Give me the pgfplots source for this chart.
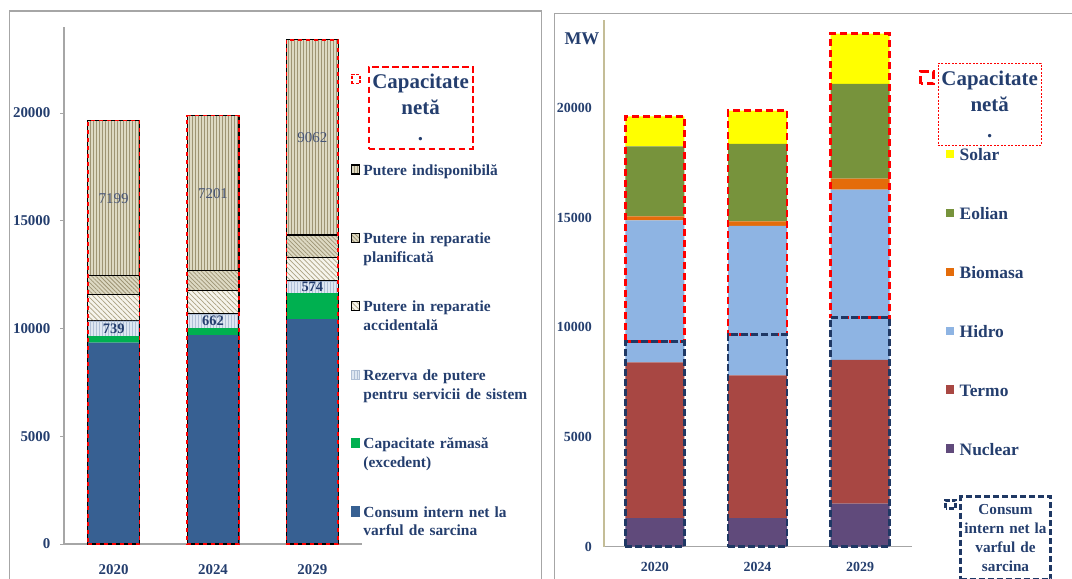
\documentclass[border=0pt]{standalone}
\usepackage{fontspec}
\setmainfont{Liberation Serif}
\usepackage{pgfplots}
\usepackage{pgfplotstable}
\pgfplotsset{compat=1.18}
\usetikzlibrary{patterns,patterns.meta}

\definecolor{txtblue}{RGB}{36,62,110}
\definecolor{labblue}{RGB}{70,84,118}
\definecolor{consblue}{RGB}{55,96,146}
\definecolor{excgreen}{RGB}{0,176,80}
\definecolor{tanfill}{RGB}{221,217,195}
\definecolor{tanline}{RGB}{158,148,116}
\definecolor{rezfill}{RGB}{222,231,242}
\definecolor{rezline}{RGB}{176,192,214}
\definecolor{accfill}{RGB}{246,244,236}
\definecolor{accline}{RGB}{172,162,130}
\definecolor{solar}{RGB}{255,255,0}
\definecolor{eolian}{RGB}{119,147,60}
\definecolor{biomasa}{RGB}{228,108,10}
\definecolor{hidro}{RGB}{142,180,227}
\definecolor{termo}{RGB}{168,71,67}
\definecolor{nuclear}{RGB}{96,74,123}
\definecolor{axgray}{RGB}{166,166,166}
\definecolor{axtan}{RGB}{196,189,151}
\definecolor{netred}{RGB}{255,0,0}
\definecolor{consnavy}{RGB}{31,56,100}

\newcommand{\fsz}[2]{\fontsize{#1}{#2}\selectfont}

% bilant de putere (MW)
\pgfplotstableread{
x consum ramasa rezerva accid planif indisp neta
0 9340 280 739 1230 860 7199 19648
1 9670 340 662 1080 930 7201 19883
2 10440 1190 574 1100 1035 9062 23401
}\bilant

% etichete pe bare (centrul segmentului)
\pgfplotstableread{
x y lab
0 16048 7199
1 16282 7201
2 18870 9062
}\lblindisp
\pgfplotstableread{
x y lab
0 9990 739
1 10341 662
2 11917 574
}\lblrez

% productie pe surse (MW)
\pgfplotstableread{
x nuclear termo hidro biomasa eolian solar consum neta
0 1300 7100 6470 180 3190 1370 9340 19610
1 1300 6500 6820 200 3530 1520 9670 19870
2 1960 6550 7760 500 4310 2290 10440 23370
}\productie

\pgfplotsset{
  leftpanel/.style={
    scale only axis, width=298bp, height=517.2bp,
    at={(64bp,-544bp)}, anchor=south west,
    xmin=-0.5, xmax=2.5, ymin=0, ymax=24000, clip=false,
  },
  rightpanel/.style={
    scale only axis, width=308bp, height=526.8bp,
    at={(603.5bp,-546.7bp)}, anchor=south west,
    xmin=-0.5, xmax=2.5, ymin=0, ymax=24000, clip=false,
  },
}

\begin{document}
\begin{tikzpicture}
\path[use as bounding box] (0,0) rectangle (1072bp,-579bp);
\draw[axgray, line width=1.2bp] (9.6bp,-600bp) -- (9.6bp,-11bp) -- (541.7bp,-11bp) -- (541.7bp,-600bp);
\draw[axgray, line width=1.2bp] (554.3bp,-600bp) -- (554.3bp,-13.3bp) -- (1085bp,-13.3bp);

% ---------------- stanga ----------------
\begin{axis}[leftpanel,
  ybar stacked, bar width=51.7bp,
  axis x line*=bottom, axis y line*=left,
  x axis line style={draw=axgray, line width=1.2bp, -},
  y axis line style={draw=axgray, line width=1.2bp, -},
  xtick={0,1,2}, xticklabels={2020,2024,2029},
  ytick={0,5000,10000,15000,20000},
  xtick style={draw=none},
  ytick style={draw=axgray, line width=1bp},
  tick align=outside, major tick length=4bp,
  scaled y ticks=false,
  /pgf/number format/1000 sep={},
  /pgf/number format/assume math mode=true,
  tick label style={font=\bfseries\fsz{15}{18}, text=txtblue},
  yticklabel style={anchor=east, inner sep=0pt, xshift=-9.4bp},
  xticklabel style={anchor=base, inner sep=0pt, yshift=-26bp},
  reverse legend,
  legend style={draw=none, fill=none, inner sep=0pt,
    at={(0.9631,0.7360)}, anchor=north west, row sep=31.9bp,
    cells={anchor=base west},
    nodes={inner sep=0pt, align=left, text width=180bp,
      text height=11.5bp, text depth=25bp,
      font=\bfseries\fsz{15.5}{19}, text=txtblue}},
  legend image code/.code={\draw[#1, line width=1.2bp] (0bp,1bp) rectangle (8bp,10bp); \path (11bp,0bp);},
]
\addplot[fill=consblue, draw=consblue] table[x=x, y=consum]{\bilant};
\addlegendentry{Consum intern net la\\varful de sarcina}
\addplot[fill=excgreen, draw=excgreen] table[x=x, y=ramasa]{\bilant};
\addlegendentry{Capacitate rămasă\\(excedent)}
\addplot[fill=rezfill, draw=rezline,
  postaction={pattern={Lines[angle=90,distance=3bp,line width=0.6bp]}, pattern color=rezline}]
  table[x=x, y=rezerva]{\bilant};
\addlegendentry{Rezerva de putere\\pentru servicii de sistem}
\addplot[fill=accfill, draw=black, line width=1.3bp,
  postaction={pattern={Lines[angle=-45,distance=3.5bp,line width=0.7bp]}, pattern color=accline}]
  table[x=x, y=accid]{\bilant};
\addlegendentry{Putere in reparatie\\accidentală}
\addplot[fill=tanfill, draw=black, line width=1.3bp,
  postaction={pattern={Lines[angle=-45,distance=3bp,line width=0.8bp]}, pattern color=tanline}]
  table[x=x, y=planif]{\bilant};
\addlegendentry{Putere in reparatie\\planificată}
\addplot[fill=tanfill, draw=black, line width=1.3bp,
  postaction={pattern={Lines[angle=90,distance=3bp,line width=0.7bp]}, pattern color=tanline}]
  table[x=x, y=indisp]{\bilant};
\addlegendentry{Putere indisponibilă}
\end{axis}

\begin{axis}[leftpanel, hide axis,
  legend style={draw=none, fill=none, inner sep=0pt,
    at={(0.9631,0.9265)}, anchor=north west,
    cells={anchor=north west},
    nodes={draw=netred, line width=2.2bp, dash pattern=on 6.5bp off 3.5bp,
      inner sep=0pt, align=center, text width=104bp, minimum height=82bp,
      text height=, text depth=,
      font=\bfseries\fsz{21}{26}, text=txtblue}},
  legend image code/.code={\draw[netred, line width=1.4bp, dash pattern=on 3bp off 1.5bp] (0bp,-18bp) rectangle (8bp,-9bp); \path (15bp,0bp);},
]
\addplot[ybar, bar width=51.7bp, bar shift=0pt, fill=none, draw=black, line width=1.2bp]
  table[x=x, y=neta]{\bilant};
\addlegendentry{Capacitate\\netă\\.}
\addplot[ybar, bar width=51.7bp, bar shift=0pt, fill=none, draw=netred, line width=1.6bp,
  dash pattern=on 4bp off 4bp]
  table[x=x, y=neta]{\bilant};
\addplot[draw=none, nodes near coords, point meta=explicit symbolic,
  every node near coord/.append style={anchor=center, font=\fsz{15}{16}, text=labblue}]
  table[x=x, y=y, meta=lab]{\lblindisp};
\addplot[draw=none, nodes near coords, point meta=explicit symbolic,
  every node near coord/.append style={anchor=center, font=\bfseries\fsz{14.5}{16}, text=txtblue}]
  table[x=x, y=y, meta=lab]{\lblrez};
\end{axis}

% ---------------- dreapta ----------------
\begin{axis}[rightpanel,
  ybar stacked, bar width=59bp,
  axis x line*=bottom, axis y line*=left,
  x axis line style={draw=axgray, line width=1.2bp, -},
  y axis line style={draw=axtan, line width=2bp, -},
  xtick={0,1,2}, xticklabels={2020,2024,2029},
  ytick={0,5000,10000,15000,20000},
  tick style={draw=none},
  scaled y ticks=false,
  /pgf/number format/1000 sep={},
  /pgf/number format/assume math mode=true,
  tick label style={font=\bfseries\fsz{14}{17}, text=txtblue},
  yticklabel style={anchor=east, inner sep=0pt, xshift=-11.5bp},
  xticklabel style={anchor=base, inner sep=0pt, yshift=-24.3bp},
  reverse legend,
  legend style={draw=none, fill=none, inner sep=0pt,
    at={(1.1104,0.7581)}, anchor=north west, row sep=41.9bp,
    cells={anchor=base west},
    nodes={inner sep=0pt, text height=13bp, text depth=4bp,
      font=\bfseries\fsz{17.5}{21}, text=txtblue}},
  legend image code/.code={\fill[#1, draw=none] (0bp,2.4bp) rectangle (8.5bp,10.7bp); \path (14bp,0bp);},
]
\addplot[fill=nuclear, draw=none] table[x=x, y=nuclear]{\productie};
\addlegendentry{Nuclear}
\addplot[fill=termo, draw=none] table[x=x, y=termo]{\productie};
\addlegendentry{Termo}
\addplot[fill=hidro, draw=none] table[x=x, y=hidro]{\productie};
\addlegendentry{Hidro}
\addplot[fill=biomasa, draw=none] table[x=x, y=biomasa]{\productie};
\addlegendentry{Biomasa}
\addplot[fill=eolian, draw=none] table[x=x, y=eolian]{\productie};
\addlegendentry{Eolian}
\addplot[fill=solar, draw=none] table[x=x, y=solar]{\productie};
\addlegendentry{Solar}
\node[font=\bfseries\fsz{18}{20}, text=txtblue] at (rel axis cs:-0.07,0.965) {MW};
\end{axis}

\begin{axis}[rightpanel, hide axis, ybar stacked, bar width=59bp,
  legend style={draw=none, fill=none, inner sep=0pt,
    at={(1.0244,0.9194)}, anchor=north west,
    cells={anchor=north west},
    nodes={draw=netred, line width=0.9bp, dash pattern=on 2bp off 1.5bp,
      inner sep=0pt, align=center, text width=103.5bp, minimum height=82bp,
      text height=, text depth=,
      font=\bfseries\fsz{21}{26}, text=txtblue}},
  legend image code/.code={\draw[netred, line width=2.6bp, dash pattern=on 8bp off 4bp] (0bp,-21bp) rectangle (13bp,-9bp); \path (17bp,0bp);},
]
\addplot[draw=none, fill=none] table[x=x, y=consum]{\productie};
\addlegendentry{Capacitate\\netă\\.}
\addplot[fill=none, draw=netred, line width=2.6bp, dash pattern=on 7bp off 4bp]
  table[x=x, y expr=\thisrow{neta}-\thisrow{consum}]{\productie};
\end{axis}

\begin{axis}[rightpanel, hide axis,
  legend style={draw=none, fill=none, inner sep=0pt,
    at={(1.1056,0.1004)}, anchor=north west,
    cells={anchor=north west},
    nodes={draw=consnavy, line width=2.4bp, dash pattern=on 6bp off 3bp,
      inner sep=0pt, align=center, text width=90bp, minimum height=83bp,
      text height=, text depth=,
      font=\bfseries\fsz{15.3}{19}, text=txtblue}},
  legend image code/.code={\draw[consnavy, line width=2.6bp, dash pattern=on 5bp off 2bp] (0bp,-13bp) rectangle (10bp,-5bp); \path (12.5bp,0bp);},
]
\addplot[ybar, bar width=59bp, bar shift=0pt, fill=none, draw=consnavy, line width=2.6bp,
  dash pattern=on 7bp off 3bp]
  table[x=x, y=consum]{\productie};
\addlegendentry{Consum\\intern net la\\varful de\\sarcina}
\end{axis}
\end{tikzpicture}
\end{document}
